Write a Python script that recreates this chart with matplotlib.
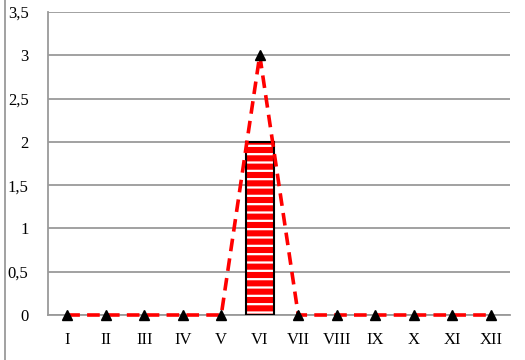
import matplotlib.pyplot as plt
from matplotlib.lines import Line2D

# monthly data
months = ['I', 'II', 'III', 'IV', 'V', 'VI', 'VII', 'VIII', 'IX', 'X', 'XI', 'XII']
bar_vals = [0, 0, 0, 0, 0, 2, 0, 0, 0, 0, 0, 0]
line_vals = [0, 0, 0, 0, 0, 3, 0, 0, 0, 0, 0, 0]
yticks = [0, 0.5, 1, 1.5, 2, 2.5, 3, 3.5]

plt.rcParams['font.family'] = ['Liberation Serif', 'DejaVu Serif']
plt.rcParams['hatch.linewidth'] = 1.6

fig = plt.figure(figsize=(5.25, 3.6), dpi=100)
ax = fig.add_axes([48 / 525, 45 / 360, 462 / 525, 303 / 360])

x = list(range(len(months)))
edges = ['black' if v > 0 else 'none' for v in bar_vals]
ax.bar(x, bar_vals, width=0.72, color='#ff0000', edgecolor='white', hatch='--', linewidth=0, zorder=3)
ax.bar(x, bar_vals, width=0.72, color='none', edgecolor=edges, linewidth=1.5, zorder=4)
ax.plot(x, line_vals, color='#ff0000', linestyle=(0, (3.5, 2)), linewidth=2.6, zorder=5, clip_on=False)
ax.plot(x, line_vals, linestyle='none', marker='^', color='black', markersize=7, zorder=6, clip_on=False)

ax.set_xlim(-0.5, len(months) - 0.5)
ax.set_ylim(0, 3.5)
ax.set_xticks(x)
ax.set_xticklabels(months)
ax.set_yticks(yticks)
ax.set_yticklabels([('%g' % v).replace('.', ',') for v in yticks])
ax.tick_params(length=0, labelsize=12, pad=12)
ax.tick_params(axis='y', pad=14)
ax.grid(axis='y', color='#9a9a9a', linewidth=1.3, zorder=0)
for s in ['top', 'right']:
    ax.spines[s].set_visible(False)
for s in ['left', 'bottom']:
    ax.spines[s].set_color('#9a9a9a')
    ax.spines[s].set_linewidth(1.3)

# border line at the left edge
fig.add_artist(Line2D([5 / 525, 5 / 525], [0, 1], color='#9a9a9a', linewidth=1.3))

fig.savefig('out.png', dpi=100)
